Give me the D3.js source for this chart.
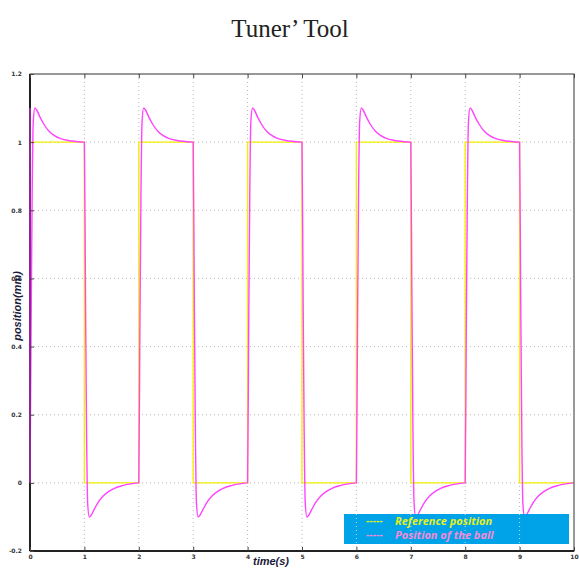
<!DOCTYPE html>
<html>
<head>
<meta charset="utf-8">
<script src="https://cdn.jsdelivr.net/npm/d3@7"></script>
<style>
  body { margin: 0; background: #fff; }
  svg { display: block; }
</style>
</head>
<body>
<script>
// ticks
var timeTicks = [0, 1, 2, 3, 4, 5, 6, 7, 8, 9, 10];
var posTicks = [-0.2, 0, 0.2, 0.4, 0.6, 0.8, 1, 1.2];
var posTickLabels = ['-0.2', '0', '0.2', '0.4', '0.6', '0.8', '1', '1.2'];

// reference square wave: switching instants and level after each switch
var refEdges = [0, 1, 2, 3, 4, 5, 6, 7, 8, 9, 10];
var refLevels = [1, 0, 1, 0, 1, 0, 1, 0, 1, 0, 0];

// ball response, time after each switch
var riseOffset = [0, 0.02, 0.04, 0.06, 0.09, 0.12, 0.18, 0.25, 0.35, 0.45, 0.55, 0.7, 0.85, 0.99];
var riseValue = [0, 0.45, 0.85, 1.06, 1.1, 1.095, 1.075, 1.054, 1.032, 1.019, 1.011, 1.005, 1.002, 1.0];
var fallOffset = [0, 0.02, 0.04, 0.06, 0.09, 0.12, 0.18, 0.25, 0.35, 0.45, 0.55, 0.7, 0.85, 0.99];
var fallValue = [1, 0.55, 0.15, -0.06, -0.1, -0.096, -0.078, -0.058, -0.038, -0.025, -0.016, -0.008, -0.003, 0];

var W = 579, H = 568;
var x = d3.scaleLinear().domain([0, 10]).range([30, 574]);
var y = d3.scaleLinear().domain([-0.2, 1.2]).range([551, 74]);

var svg = d3.select('body').append('svg').attr('width', W).attr('height', H);

// title
svg.append('text')
  .attr('x', 290).attr('y', 37)
  .attr('text-anchor', 'middle')
  .style('font-family', '"Liberation Serif", "Times New Roman", serif')
  .style('font-size', '25px')
  .attr('fill', '#222')
  .text('Tuner\u2019 Tool');

// grid
var grid = svg.append('g');
grid.selectAll('.gx').data(timeTicks.slice(1, -1)).enter().append('line')
  .attr('x1', function(d) { return x(d); }).attr('x2', function(d) { return x(d); })
  .attr('y1', y(1.2)).attr('y2', y(-0.2))
  .attr('stroke', '#b8b8b8').attr('stroke-width', 1).attr('stroke-dasharray', '1,3');
grid.selectAll('.gy').data(posTicks.slice(1, -1)).enter().append('line')
  .attr('y1', function(d) { return y(d); }).attr('y2', function(d) { return y(d); })
  .attr('x1', x(0)).attr('x2', x(10))
  .attr('stroke', '#b8b8b8').attr('stroke-width', 1).attr('stroke-dasharray', '1,3');

// build series
var refPts = refEdges.map(function(t, i) { return [t, refLevels[i]]; });
var ballPts = [];
for (var i = 0; i < refEdges.length - 1; i++) {
  var t0 = refEdges[i];
  var offs = refLevels[i] === 1 ? riseOffset : fallOffset;
  var vals = refLevels[i] === 1 ? riseValue : fallValue;
  for (var j = 0; j < offs.length; j++) {
    ballPts.push([t0 + offs[j], vals[j]]);
  }
}

var refLine = d3.line().x(function(d) { return x(d[0]); }).y(function(d) { return y(d[1]); })
  .curve(d3.curveStepAfter);
var ballLine = d3.line().x(function(d) { return x(d[0]); }).y(function(d) { return y(d[1]); })
  .curve(d3.curveMonotoneX);

svg.append('path').datum(refPts)
  .attr('d', refLine).attr('fill', 'none')
  .attr('stroke', '#f4f000').attr('stroke-width', 1.4);
svg.append('path').datum(ballPts)
  .attr('d', ballLine).attr('fill', 'none')
  .attr('stroke', '#ff44ff').attr('stroke-width', 1.4);

// frame
svg.append('rect')
  .attr('x', x(0)).attr('y', y(1.2))
  .attr('width', x(10) - x(0)).attr('height', y(-0.2) - y(1.2))
  .attr('fill', 'none').attr('stroke', '#333').attr('stroke-width', 1);
svg.append('line')
  .attr('x1', x(0)).attr('x2', x(0)).attr('y1', y(1.2)).attr('y2', y(-0.2))
  .attr('stroke', '#222').attr('stroke-width', 2);
svg.append('line')
  .attr('x1', x(0)).attr('x2', x(10)).attr('y1', y(-0.2)).attr('y2', y(-0.2))
  .attr('stroke', '#222').attr('stroke-width', 2);
// pink over the left axis at the first switch
svg.append('line')
  .attr('x1', x(0)).attr('x2', x(0)).attr('y1', y(1.1)).attr('y2', y(0))
  .attr('stroke', '#d030e0').attr('stroke-width', 1.2);

// axes
var xAxis = d3.axisBottom(x).tickValues(timeTicks).tickSize(4).tickPadding(0)
  .tickFormat(d3.format('d'));
var gx = svg.append('g').attr('transform', 'translate(0,' + y(-0.2) + ')').call(xAxis);
gx.select('.domain').remove();
gx.selectAll('.tick line').attr('y2', -4).attr('stroke', '#444');

var yAxis = d3.axisLeft(y).tickValues(posTicks).tickSize(4).tickPadding(4)
  .tickFormat(function(d, i) { return posTickLabels[i]; });
var gy = svg.append('g').attr('transform', 'translate(' + x(0) + ',0)').call(yAxis);
gy.select('.domain').remove();
gy.selectAll('.tick line').attr('x2', 4).attr('stroke', '#444');

var gt = svg.append('g').attr('transform', 'translate(0,' + y(1.2) + ')')
  .call(d3.axisTop(x).tickValues(timeTicks).tickSize(0).tickFormat(''));
gt.select('.domain').remove();
gt.selectAll('.tick line').attr('y2', 4).attr('stroke', '#444');

svg.selectAll('.tick text')
  .style('font-family', '"DejaVu Sans", sans-serif')
  .style('font-size', '6px')
  .style('font-weight', 'bold')
  .attr('fill', '#333');

// axis labels
svg.append('text')
  .attr('transform', 'translate(21,306) rotate(-90)')
  .attr('text-anchor', 'middle')
  .style('font-family', '"Liberation Sans", Arial, sans-serif')
  .style('font-size', '11px').style('font-weight', 'bold').style('font-style', 'italic')
  .attr('fill', '#1a1a3a')
  .text('position(mm)');
svg.append('text')
  .attr('x', 271).attr('y', 565)
  .attr('text-anchor', 'middle')
  .style('font-family', '"Liberation Sans", Arial, sans-serif')
  .style('font-size', '11px').style('font-weight', 'bold').style('font-style', 'italic')
  .attr('fill', '#1a1a3a')
  .text('time(s)');

// legend
var leg = svg.append('g');
leg.append('rect')
  .attr('x', 344).attr('y', 514).attr('width', 225).attr('height', 30)
  .attr('fill', '#00a2e8');
leg.selectAll('line').data(timeTicks.filter(function(d) { return x(d) > 344 && x(d) < 569; }))
  .enter().append('line')
  .attr('x1', function(d) { return x(d); }).attr('x2', function(d) { return x(d); })
  .attr('y1', 514).attr('y2', 544)
  .attr('stroke', '#c8d8e8').attr('stroke-width', 1).attr('stroke-dasharray', '1,3');
var legItems = [
  { label: 'Reference position', color: '#e6f020' },
  { label: 'Position of the ball', color: '#f58ad6' }
];
leg.selectAll('text.dash').data(legItems).enter().append('text')
  .attr('x', 366).attr('y', function(d, i) { return 524 + i * 14; })
  .style('font-family', '"Liberation Sans", sans-serif')
  .style('font-size', '10px').style('font-weight', 'bold')
  .attr('fill', function(d) { return d.color; })
  .text('-----');
leg.selectAll('text.lab').data(legItems).enter().append('text')
  .attr('x', 395).attr('y', function(d, i) { return 525 + i * 14; })
  .style('font-family', '"Open Sans", "Liberation Sans", sans-serif')
  .style('font-size', '11px').style('font-weight', 'bold').style('font-style', 'italic')
  .attr('fill', function(d) { return d.color; })
  .text(function(d) { return d.label; });
</script>
</body>
</html>
